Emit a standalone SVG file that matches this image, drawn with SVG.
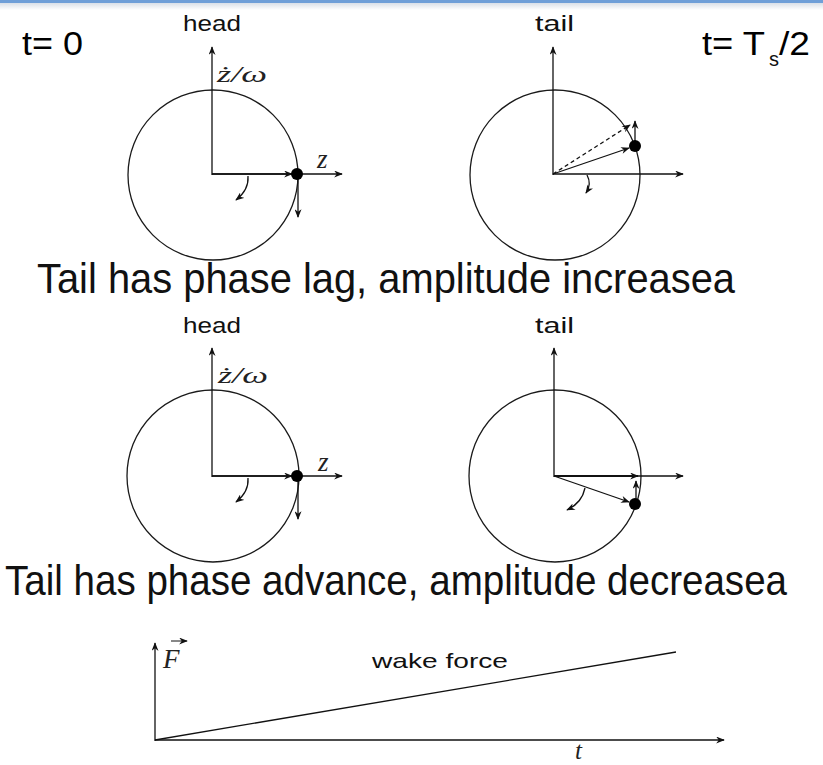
<svg xmlns="http://www.w3.org/2000/svg" width="823" height="765" viewBox="0 0 823 765">
<defs>
<marker id="ah" viewBox="0 0 10 8" refX="9" refY="4" markerWidth="9" markerHeight="7" markerUnits="userSpaceOnUse" orient="auto"><path d="M0,0 L10,4 L0,8 L3,4 z" fill="#111"/></marker>
<linearGradient id="sh" x1="0" y1="0" x2="0" y2="1"><stop offset="0" stop-color="#d9e0e8"/><stop offset="1" stop-color="#ffffff"/></linearGradient>
</defs>
<style>
.ln{fill:none;stroke:#111;stroke-width:1.3}
.ar{fill:none;stroke:#111;stroke-width:1.3;marker-end:url(#ah)}
.dash{stroke-dasharray:4,3}
.circ{fill:none;stroke:#1a1a1a;stroke-width:1.3}
.dot{fill:#000}
.lbl{font-family:"Liberation Sans",Arial,sans-serif;fill:#111}
.math{font-family:"Liberation Serif","Times New Roman",serif;font-style:italic;fill:#222}
.big{font-family:"Liberation Sans",Arial,sans-serif;fill:#111;font-size:38px}
.cal{font-family:"Liberation Sans",Arial,sans-serif;fill:#000;font-size:33px}
</style>
<rect x="0" y="0" width="823" height="765" fill="#fff"/>
<rect x="0" y="3" width="823" height="7" fill="url(#sh)"/>
<rect x="0" y="0" width="823" height="3" fill="#6f9fd8"/>

<g id="time-labels">
<text class="cal" x="22" y="55" textLength="61" lengthAdjust="spacingAndGlyphs">t= 0</text>
<text class="cal" x="702" y="55" textLength="63" lengthAdjust="spacingAndGlyphs">t= T</text>
<text class="lbl" x="769" y="66" font-size="20">s</text>
<text class="cal" x="779" y="55" textLength="31" lengthAdjust="spacingAndGlyphs">/2</text>
</g>

<g id="head-1">
<text class="lbl" x="183" y="31" font-size="22" textLength="58" lengthAdjust="spacingAndGlyphs">head</text>
<circle class="circ" cx="213" cy="175" r="85"/>
<text class="math" x="217" y="82" font-size="24" textLength="50" lengthAdjust="spacingAndGlyphs">ż/ω</text>
<text class="math" x="317" y="168" font-size="27">z</text>
</g>
<g id="tail-1">
<text class="lbl" x="535" y="31" font-size="22" textLength="39" lengthAdjust="spacingAndGlyphs">tail</text>
<circle class="circ" cx="555" cy="175" r="85"/>
</g>
<g id="caption-1">
<text class="big" transform="translate(37,293) scale(1,1.13)" x="0" y="0" textLength="698" lengthAdjust="spacingAndGlyphs">Tail has phase lag, amplitude increasea</text>
</g>

<g id="head-2">
<text class="lbl" x="183" y="333" font-size="22" textLength="58" lengthAdjust="spacingAndGlyphs">head</text>
<circle class="circ" cx="213" cy="476" r="86"/>
<text class="math" x="218" y="383" font-size="24" textLength="50" lengthAdjust="spacingAndGlyphs">ż/ω</text>
<text class="math" x="318" y="471" font-size="27">z</text>
</g>
<g id="tail-2">
<text class="lbl" x="535" y="333" font-size="22" textLength="39" lengthAdjust="spacingAndGlyphs">tail</text>
<circle class="circ" cx="555" cy="476" r="86"/>
</g>
<g id="caption-2">
<text class="big" transform="translate(5,595) scale(1,1.13)" x="0" y="0" textLength="782" lengthAdjust="spacingAndGlyphs">Tail has phase advance, amplitude decreasea</text>
</g>

<g id="wake-graph">
<text class="math" x="163" y="668" font-size="27">F</text>
<text class="lbl" x="372" y="668" font-size="21" textLength="136" lengthAdjust="spacingAndGlyphs">wake force</text>
<text class="math" x="575" y="759" font-size="25">t</text>
</g>

<g id="connectors">
<path class="ar" d="M212,175 V47"/>
<path class="ar" d="M212,174 H342"/>
<path class="ar" d="M212,174 H292"/>
<path class="ar" d="M298,177 V217"/>
<path class="ar" d="M248,176 Q249,190 236,200"/>
<path class="ar" d="M553,175 V47"/>
<path class="ar" d="M553,174 H683"/>
<path class="ar" d="M553,174 L629,148"/>
<path class="ar dash" d="M553,174 L630,125"/>
<path class="ar" d="M635,146 V121"/>
<path class="ar" d="M587,175 Q592,184 586,193"/>
<path class="ar" d="M212,477 V348"/>
<path class="ar" d="M212,476 H342"/>
<path class="ar" d="M212,476 H292"/>
<path class="ar" d="M298,479 V519"/>
<path class="ar" d="M248,478 Q249,492 236,502"/>
<path class="ar" d="M554,477 V348"/>
<path class="ar" d="M554,476 H683"/>
<path class="ar" d="M554,476 H638" style="stroke-width:1.8"/>
<path class="ar" d="M554,476 L629,502"/>
<path class="ar" d="M636,502 V481"/>
<path class="ar" d="M585,488 Q582,503 567,510"/>
<path class="ar" d="M155,741 V643"/>
<path class="ar" d="M155,740 H724"/>
<path class="ln" d="M155,740 L676,652"/>
<path class="ar" d="M171,641 H187" style="stroke-width:1"/>
</g>
<g id="dots">
<circle class="dot" cx="297" cy="174" r="6"/>
<circle class="dot" cx="635" cy="146" r="6"/>
<circle class="dot" cx="297" cy="476" r="6"/>
<circle class="dot" cx="635" cy="504" r="6"/>
</g>
</svg>
